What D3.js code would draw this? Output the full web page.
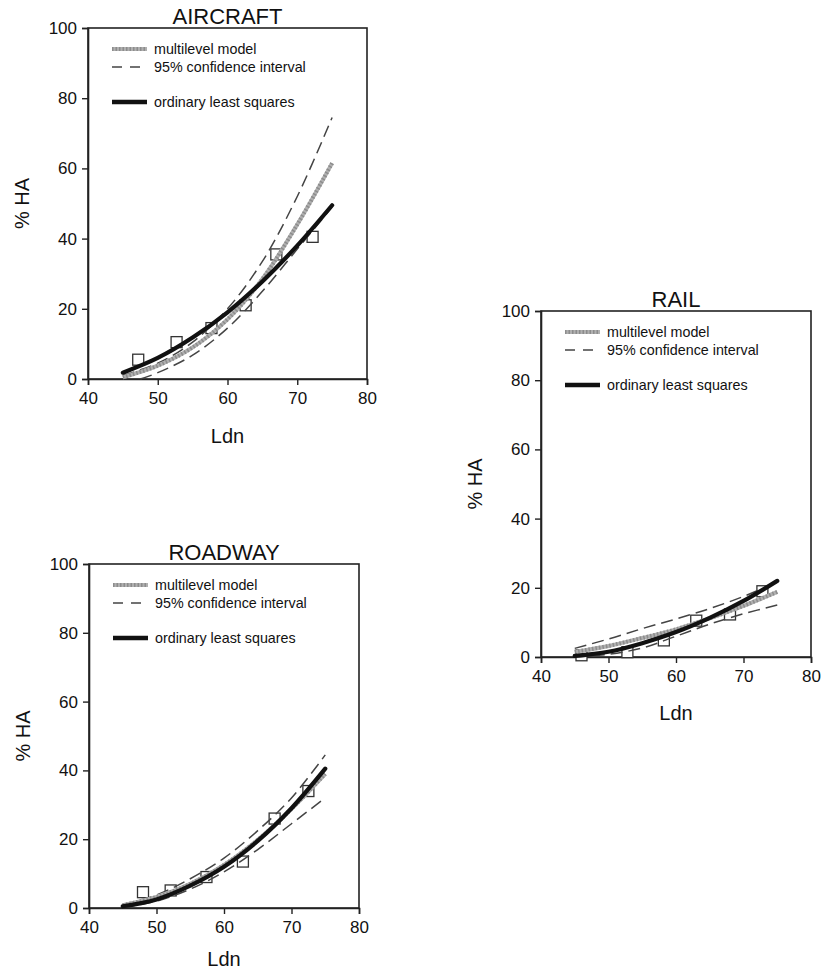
<!DOCTYPE html>
<html>
<head>
<meta charset="utf-8">
<script src="https://cdn.jsdelivr.net/npm/d3@7"></script>
<style>
  html, body { margin: 0; padding: 0; background: #fff; }
  svg { display: block; }
  text { font-family: "Liberation Sans", Arial, Helvetica, sans-serif; fill: #111; }
</style>
</head>
<body>
<svg id="chart" width="821" height="974"></svg>
<script>
// ---------- data ----------
const xTicks = [40, 50, 60, 70, 80];
const yTicks = [0, 20, 40, 60, 80, 100];
const legendLabels = ["multilevel model", "95% confidence interval", "ordinary least squares"];
const xLabel = "Ldn";
const yLabel = "% HA";

const ldnGrid = [45, 50, 55, 60, 65, 70, 75];

// AIRCRAFT
const aircraftOLS   = [1.8, 6.0, 11.8, 19.0, 27.8, 38.0, 49.5];
const aircraftMulti = [0.5, 3.8, 9.0, 17.0, 28.5, 44.0, 61.5];
const aircraftUpper = [1.0, 4.5, 10.5, 20.0, 33.5, 52.0, 74.5];
const aircraftLowerLdn = [47.5, 50, 55, 60, 65, 70, 75];
const aircraftLower = [0.0, 1.8, 6.8, 14.5, 25.0, 37.0, 49.0];
const aircraftObsLdn = [47.2, 52.7, 57.7, 62.6, 67.0, 72.2];
const aircraftObsHA  = [5.5, 10.5, 14.5, 21.0, 35.5, 40.5];

// RAIL
const railOLS   = [0.3, 1.5, 4.0, 7.2, 11.3, 16.2, 22.0];
const railMulti = [1.5, 3.2, 5.5, 8.0, 11.2, 14.8, 18.8];
const railUpper = [2.5, 5.2, 8.2, 11.0, 14.0, 17.5, 21.7];
const railLowerLdn = [45, 50, 55, 60, 65, 70, 75];
const railLower = [0.0, 0.8, 2.6, 6.0, 9.5, 12.5, 15.0];
const railObsLdn = [46.0, 52.8, 58.2, 63.0, 68.0, 72.8];
const railObsHA  = [0.5, 1.4, 4.8, 10.5, 12.3, 19.0];

// ROADWAY
const roadOLS   = [0.5, 2.5, 6.5, 12.0, 19.5, 29.0, 40.5];
const roadMulti = [0.8, 3.2, 7.0, 12.5, 19.8, 28.8, 39.0];
const roadUpper = [1.0, 3.8, 8.5, 14.5, 22.5, 32.0, 44.5];
const roadLowerLdn = [45, 50, 55, 60, 65, 70, 75];
const roadLower = [0.2, 2.0, 5.5, 10.5, 17.0, 24.5, 32.0];
const roadObsLdn = [48.0, 52.1, 57.4, 62.8, 67.5, 72.5];
const roadObsHA  = [4.6, 5.1, 9.0, 13.5, 26.0, 34.0];

// ---------- drawing ----------
const svg = d3.select("#chart");

const panels = [
  { title: "AIRCRAFT", box: [88, 28, 367, 379], xlabOff: 64,
    ols: aircraftOLS, multi: aircraftMulti, upper: aircraftUpper,
    lowerLdn: aircraftLowerLdn, lower: aircraftLower,
    obsLdn: aircraftObsLdn, obsHA: aircraftObsHA },
  { title: "RAIL", box: [541, 311, 811, 657], xlabOff: 63,
    ols: railOLS, multi: railMulti, upper: railUpper,
    lowerLdn: railLowerLdn, lower: railLower,
    obsLdn: railObsLdn, obsHA: railObsHA },
  { title: "ROADWAY", box: [89, 564, 359, 908], xlabOff: 58,
    ols: roadOLS, multi: roadMulti, upper: roadUpper,
    lowerLdn: roadLowerLdn, lower: roadLower,
    obsLdn: roadObsLdn, obsHA: roadObsHA }
];

panels.forEach(p => {
  const [x0, y0, x1, y1] = p.box;
  const x = d3.scaleLinear().domain([40, 80]).range([x0, x1]);
  const y = d3.scaleLinear().domain([0, 100]).range([y1, y0]);
  const g = svg.append("g");

  // frame
  g.append("rect").attr("x", x0).attr("y", y0).attr("width", x1 - x0).attr("height", y1 - y0)
    .attr("fill", "none").attr("stroke", "#222").attr("stroke-width", 1.6);

  // axes
  const xAxis = d3.axisBottom(x).tickValues(xTicks).tickSize(6).tickPadding(7).tickFormat(d3.format("d"));
  const yAxis = d3.axisLeft(y).tickValues(yTicks).tickSize(6).tickPadding(5).tickFormat(d3.format("d"));
  const gx = g.append("g").attr("transform", `translate(0,${y1})`).call(xAxis);
  const gy = g.append("g").attr("transform", `translate(${x0},0)`).call(yAxis);
  [gx, gy].forEach(a => {
    a.select(".domain").attr("stroke", "#222").attr("stroke-width", 1.6);
    a.selectAll(".tick line").attr("stroke", "#222").attr("stroke-width", 1.4);
    a.selectAll(".tick text").attr("font-size", 17).attr("fill", "#222")
      .attr("font-family", "'Liberation Sans', Arial, sans-serif");
  });

  // title
  g.append("text").attr("x", (x0 + x1) / 2).attr("y", y0 - 4)
    .attr("text-anchor", "middle").attr("font-size", 22).text(p.title);

  // axis labels
  g.append("text").attr("x", x(60)).attr("y", y1 + p.xlabOff)
    .attr("text-anchor", "middle").attr("font-size", 20).text(xLabel);
  g.append("text").attr("transform", `translate(${x0 - 59},${y(50)}) rotate(-90)`)
    .attr("text-anchor", "middle").attr("font-size", 20).text(yLabel);

  // observed squares (drawn below curves)
  const obs = p.obsLdn.map((d, i) => [d, p.obsHA[i]]);
  const s = 11;
  g.selectAll("rect.obs").data(obs).enter().append("rect").attr("class", "obs")
    .attr("x", d => x(d[0]) - s / 2).attr("y", d => y(d[1]) - s / 2)
    .attr("width", s).attr("height", s)
    .attr("fill", "#fff").attr("stroke", "#333").attr("stroke-width", 1.3);

  const line = d3.line().x(d => x(d[0])).y(d => y(d[1])).curve(d3.curveCatmullRom.alpha(0.5));
  const pts = arr => ldnGrid.map((d, i) => [d, arr[i]]);

  // confidence interval (dashed)
  [pts(p.upper), p.lowerLdn.map((d, i) => [d, p.lower[i]])].forEach(data => {
    g.append("path").attr("d", line(data)).attr("fill", "none")
      .attr("stroke", "#444").attr("stroke-width", 1.5).attr("stroke-dasharray", "12,6");
  });
  // multilevel model (gray textured)
  g.append("path").attr("d", line(pts(p.multi))).attr("fill", "none")
    .attr("stroke", "#b0b0b0").attr("stroke-width", 4);
  g.append("path").attr("d", line(pts(p.multi))).attr("fill", "none")
    .attr("stroke", "#8c8c8c").attr("stroke-width", 4).attr("stroke-dasharray", "1.5,2");
  // OLS
  g.append("path").attr("d", line(pts(p.ols))).attr("fill", "none")
    .attr("stroke", "#111").attr("stroke-width", 4.2).attr("stroke-linecap", "round");

  // legend
  const lx0 = x0 + 24, lx1 = x0 + 59, tx = x0 + 66;
  const ly = [y0 + 21, y0 + 39, y0 + 74];
  g.append("line").attr("x1", lx0).attr("x2", lx1).attr("y1", ly[0]).attr("y2", ly[0])
    .attr("stroke", "#b0b0b0").attr("stroke-width", 4);
  g.append("line").attr("x1", lx0).attr("x2", lx1).attr("y1", ly[0]).attr("y2", ly[0])
    .attr("stroke", "#8c8c8c").attr("stroke-width", 4).attr("stroke-dasharray", "1.5,2");
  g.append("line").attr("x1", lx0).attr("x2", lx1).attr("y1", ly[1]).attr("y2", ly[1])
    .attr("stroke", "#444").attr("stroke-width", 1.5).attr("stroke-dasharray", "10,8");
  g.append("line").attr("x1", lx0).attr("x2", lx1).attr("y1", ly[2]).attr("y2", ly[2])
    .attr("stroke", "#111").attr("stroke-width", 4.5);
  legendLabels.forEach((t, i) => {
    g.append("text").attr("x", tx).attr("y", ly[i]).attr("dy", "0.35em")
      .attr("font-size", 14.3).text(t);
  });
});
</script>
</body>
</html>
